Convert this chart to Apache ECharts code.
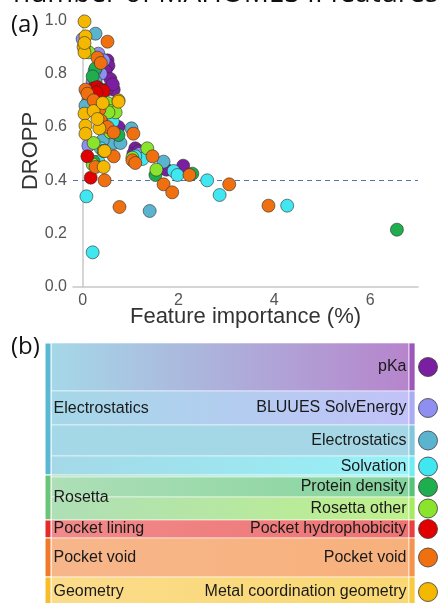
<!DOCTYPE html>
<html><head><meta charset="utf-8">
<script src="https://cdn.jsdelivr.net/npm/echarts@6/dist/echarts.min.js"></script>
<style>html,body{margin:0;padding:0;background:#fff;}#c{width:440px;height:603px;}</style>
</head><body><div id="c"></div>
<script>
// ---------- Data: panel (a) scatter, [feature importance %, DROPP] ----------
const pKa = [[0.52,0.85],[0.54,0.83],[0.48,0.81],[0.58,0.78],[0.65,0.74],[0.50,0.74],[0.63,0.76],[0.75,0.60],[1.10,0.52],[1.06,0.50],[1.17,0.51],[1.75,0.44],[2.10,0.455]];
const bluues = [[0.00,0.93],[0.33,0.875],[0.38,0.80],[0.21,0.77],[0.12,0.53],[0.44,0.85],[1.20,0.50],[0.27,0.75]];
const electrostatics = [[0.27,0.95],[0.27,0.77],[0.12,0.70],[0.58,0.57],[0.65,0.54],[0.79,0.54],[1.02,0.595],[1.69,0.47],[1.40,0.285],[0.06,0.68],[0.42,0.55]];
const solvation = [[0.25,0.81],[0.58,0.625],[0.38,0.52],[1.25,0.48],[1.90,0.435],[1.98,0.42],[2.60,0.40],[2.86,0.345],[4.27,0.305],[0.08,0.34],[0.21,0.13],[0.63,0.62],[0.33,0.47],[1.10,0.49]];
const proteinDensity = [[0.27,0.82],[0.38,0.63],[0.75,0.57],[0.23,0.47],[1.52,0.42],[2.29,0.425],[6.56,0.215],[0.21,0.79]];
const rosettaOther = [[0.13,0.88],[0.52,0.69],[0.58,0.66],[0.69,0.655],[0.58,0.58],[0.44,0.51],[1.35,0.52],[0.21,0.46],[1.04,0.485],[1.54,0.44],[0.23,0.54],[0.54,0.655]];
const pocketHydrophobicity = [[0.23,0.745],[0.31,0.75],[0.38,0.74],[0.44,0.735],[0.29,0.73],[0.10,0.49],[0.17,0.41]];
const pocketVoid = [[0.52,0.92],[0.31,0.86],[0.38,0.84],[0.06,0.74],[0.10,0.725],[0.35,0.665],[0.38,0.625],[0.52,0.60],[0.65,0.58],[1.06,0.575],[0.65,0.49],[0.27,0.45],[0.46,0.40],[0.77,0.30],[1.04,0.475],[1.10,0.465],[1.46,0.49],[1.69,0.385],[1.87,0.355],[2.23,0.42],[3.06,0.385],[3.88,0.305],[0.23,0.70]];
const metalGeometry = [[0.04,0.996],[0.06,0.94],[0.02,0.90],[0.04,0.88],[0.04,0.915],[0.75,0.70],[0.04,0.65],[0.06,0.605],[0.06,0.575],[0.35,0.595],[0.23,0.66],[0.31,0.63],[0.42,0.69],[0.44,0.51],[0.44,0.45],[0.46,0.51],[0.75,0.695]];
const drOppThreshold = 0.4;
const xTicks = [0, 2, 4, 6];
const yTicks = [0, 0.2, 0.4, 0.6, 0.8, 1.0];

// ---------- Data: panel (b) sankey ----------
const featureClasses = ['pKa','BLUUES SolvEnergy','Electrostatics','Solvation','Protein density','Rosetta other','Pocket hydrophobicity','Pocket void','Metal coordination geometry'];
const featureGroups = ['Electrostatics','Rosetta','Pocket lining','Pocket void','Geometry'];
const linkGroup = ['Electrostatics','Electrostatics','Electrostatics','Electrostatics','Rosetta','Rosetta','Rosetta','Pocket lining','Pocket void','Geometry'];
const linkClass = ['pKa','BLUUES SolvEnergy','Electrostatics','Solvation','Solvation','Protein density','Rosetta other','Pocket hydrophobicity','Pocket void','Metal coordination geometry'];
const linkValue = [48,34,31,19,2,20,23,18,39,30];

// ---------- Styles ----------
const classColors = ['#7b1fa2','#8f8ff2','#5ab4d0','#40e6f0','#1fae4e','#8ae42c','#e00000','#f07010','#f5b800'];
const groupColors = ['#5ab8d4','#6cc47a','#e52a2a','#f07a2a','#f7be2a'];
const scatterSets = [pKa,bluues,electrostatics,solvation,proteinDensity,rosettaOther,pocketHydrophobicity,pocketVoid,metalGeometry];

const FONT = 'Liberation Sans';
const chart = echarts.init(document.getElementById('c'), null, {renderer:'canvas'});

const series = [{
  type:'line', data:[], z:1, silent:true,
  markLine:{silent:true, symbol:['none','none'], label:{show:false},
    lineStyle:{type:[5,4], color:'#4f74b0', width:1},
    data:[{yAxis: drOppThreshold}]}
}];
scatterSets.forEach((d,i)=>{
  series.push({type:'scatter', name:featureClasses[i], data:d, symbolSize:13, clip:false, z:2+i,
    itemStyle:{color:classColors[i], borderColor:'rgba(45,45,45,0.75)', borderWidth:0.8, opacity:1},
    emphasis:{disabled:true}});
});

const nodes = [];
featureGroups.forEach((g,i)=>nodes.push({name:'L:'+g, label:{position:'right'}, disp:g, itemStyle:{color:groupColors[i]}}));
featureClasses.forEach((c,i)=>nodes.push({name:'R:'+c, label:{position:'left'}, disp:c, itemStyle:{color:classColors[i], opacity:0.75}}));
const links = linkValue.map((v,i)=>({source:'L:'+linkGroup[i], target:'R:'+linkClass[i], value:v}));
const sankeyIndex = series.length;
series.push({
  type:'sankey', left:45, right:25, top:343, bottom:-4, nodeWidth:6, nodeGap:0, layoutIterations:0,
  draggable:false, emphasis:{disabled:true}, silent:true,
  data:nodes, links:links,
  label:{show:true, color:'#1a1a1a', fontFamily:FONT, fontSize:16, distance:2,
    formatter:p=>p.data.disp},
  lineStyle:{color:'gradient', opacity:0.55, curveness:0.5, borderColor:'#ffffff', borderWidth:1},
  itemStyle:{borderWidth:1, borderColor:'#ffffff'}
});

const baseGraphic = [
  {type:'text', id:'top', left:13, top:-20, style:{text:'number of MAHOMES II features', font:'28px "Open Sans"', fill:'#111'}},
  {type:'text', id:'pa', left:11, top:13, style:{text:'(a)', font:'24px "Open Sans"', fill:'#111'}},
  {type:'text', id:'pb', left:11, top:335, style:{text:'(b)', font:'24px "Open Sans"', fill:'#111'}}
];

chart.setOption({
  animation:false,
  grid:{left:73, right:22, top:15, bottom:316, containLabel:false},
  xAxis:{type:'value', min:-0.2, max:7,
    name:'Feature importance (%)', nameLocation:'middle', nameGap:19, nameMoveOverlap:false,
    nameTextStyle:{fontFamily:FONT, fontSize:22, color:'#333'},
    axisLine:{lineStyle:{color:'#c8c8c8', width:1.5}}, axisTick:{show:false}, splitLine:{show:false},
    axisLabel:{customValues:xTicks, color:'#555', fontFamily:FONT, fontSize:16, margin:6}},
  yAxis:{type:'value', min:0, max:1.02,
    name:'DROPP', nameLocation:'middle', nameGap:31, nameRotate:90, nameMoveOverlap:false,
    nameTextStyle:{fontFamily:FONT, fontSize:22, color:'#333'},
    axisLine:{show:true, lineStyle:{color:'#c8c8c8', width:1.5}}, axisTick:{show:false}, splitLine:{show:false},
    axisLabel:{customValues:yTicks, color:'#555', fontFamily:FONT, fontSize:16, margin:6, formatter:v=>v.toFixed(1)}},
  graphic: baseGraphic,
  series: series
});

// Marker circles beside each right-hand sankey node, from the library's layout
const sk = chart.getModel().getSeriesByIndex(sankeyIndex);
const info = sk.layoutInfo;
const nd = sk.getData();
const circles = [];
featureClasses.forEach((c,i)=>{
  const idx = featureGroups.length + i;
  const l = nd.getItemLayout(idx);
  if(!l) return;
  circles.push({type:'circle', id:'m'+i, silent:true,
    shape:{cx: info.x + l.x + l.dx + 13, cy: info.y + l.y + l.dy/2, r:9.5},
    style:{fill:classColors[i], stroke:'rgba(60,60,60,0.8)', lineWidth:1}});
});
chart.setOption({graphic: baseGraphic.concat(circles)});
</script></body></html>
